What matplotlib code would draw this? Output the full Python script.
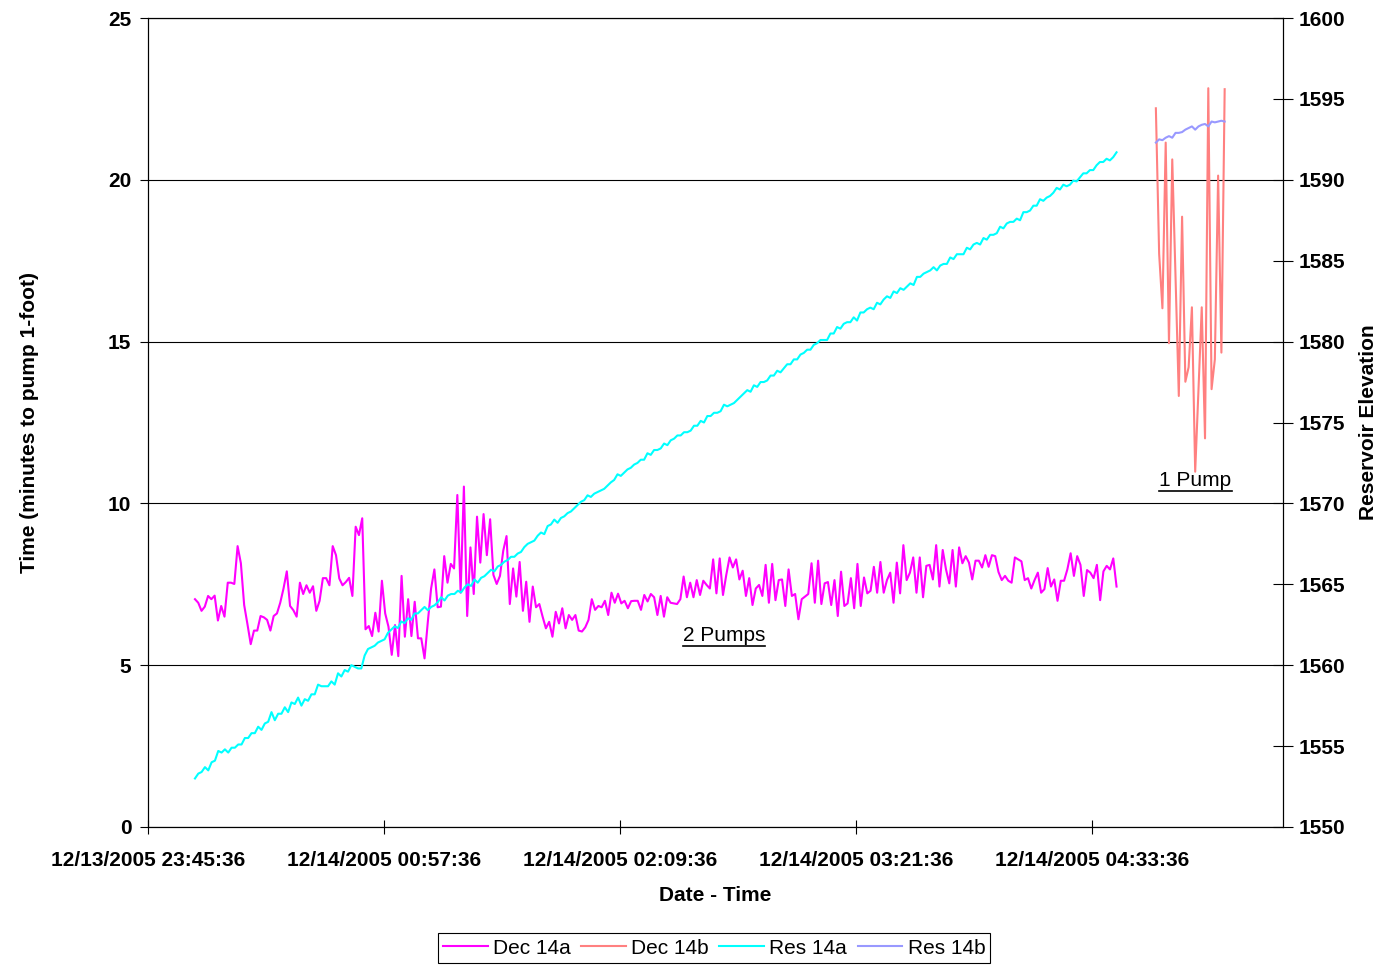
"""
Pump time per foot of reservoir rise, with reservoir elevation,
for the 12/14/2005 runs.
"""
import matplotlib
matplotlib.use("Agg")
import matplotlib.pyplot as plt
from matplotlib.lines import Line2D
import numpy as np
import pandas as pd

plt.rcParams["font.family"] = ["Liberation Sans", "DejaVu Sans"]

axis_start = "12/13/2005 23:45:36"
axis_end = "12/14/2005 05:32:00"
tick_labels = ["12/13/2005 23:45:36", "12/14/2005 00:57:36", "12/14/2005 02:09:36",
               "12/14/2005 03:21:36", "12/14/2005 04:33:36"]

# run a (two pumps), one reading per minute
run_a_start = "12/13/2005 23:59:56"
run_a_end = "12/14/2005 04:41:12"
dec14a = [
    7.04, 6.93, 6.68, 6.81, 7.14, 7.04, 7.15, 6.38, 6.83, 6.50, 7.55, 7.55, 7.51, 8.68, 8.15,
    6.86, 6.27, 5.65, 6.07, 6.07, 6.52, 6.48, 6.40, 6.07, 6.52, 6.60, 6.93, 7.37, 7.90, 6.83,
    6.70, 6.50, 7.55, 7.20, 7.47, 7.24, 7.44, 6.68, 6.99, 7.69, 7.69, 7.47, 8.68, 8.40, 7.68,
    7.47, 7.57, 7.70, 7.14, 9.28, 9.02, 9.54, 6.11, 6.21, 5.90, 6.62, 6.04,
    7.61, 6.60, 6.19, 5.32, 6.24, 5.28, 7.76, 5.88, 7.04, 5.90, 6.96, 5.83, 5.83, 5.21, 6.34,
    7.37, 7.96, 6.79, 6.81, 8.37, 7.55, 8.13, 7.99, 10.26, 7.24, 10.52, 6.52, 8.64, 7.20, 9.59,
    8.17, 9.67, 8.40, 9.51, 7.79, 7.51, 7.76, 8.54, 8.99, 6.89, 7.99, 7.12, 8.19, 6.68, 7.58,
    6.34, 7.43, 6.79, 6.89,
    6.50, 6.14, 6.34, 5.88, 6.65, 6.29, 6.76, 6.14, 6.55, 6.40, 6.55, 6.07, 6.04, 6.17, 6.40,
    7.04, 6.71, 6.83, 6.79, 6.99, 6.55, 7.24, 6.93, 7.21, 6.91, 6.99, 6.76, 6.98, 6.99, 6.99,
    6.71, 7.17, 6.97, 7.20, 7.10, 6.55, 7.14, 6.50, 7.10, 6.93, 6.91, 6.89, 7.04, 7.74, 7.10,
    7.55, 7.10, 7.63, 7.17,
    7.61, 7.48, 7.37, 8.27, 7.22, 8.30, 7.17, 7.79, 8.33, 8.02, 8.27, 7.65, 7.92, 7.14, 7.69,
    6.86, 7.37, 7.48, 7.14, 8.10, 6.93, 8.13, 7.01, 7.63, 7.65, 6.83, 7.96, 7.14, 7.20, 6.42,
    7.04, 7.12, 7.20, 8.15, 6.93, 8.23, 6.89, 7.53, 7.57, 6.86, 7.63, 6.52, 7.89, 6.83, 6.91,
    7.69, 6.76, 8.13, 6.83, 7.71, 7.22, 7.30, 8.04, 7.24, 8.19, 7.24, 7.63, 7.86, 6.93, 8.17,
    7.22,
    8.71, 7.63, 7.86, 8.33, 7.24, 8.33, 7.10, 8.07, 8.10, 7.65, 8.71, 7.43, 8.56, 7.96, 7.53,
    8.56, 7.43, 8.64, 8.15, 8.37, 8.17, 7.65, 8.23, 8.23, 8.02, 8.40, 8.04, 8.40, 8.37, 7.88,
    7.63, 7.76, 7.61, 7.55, 8.33, 8.27, 8.21, 7.63, 7.69, 7.37, 7.63, 7.86, 7.24, 7.35, 8.00,
    7.43, 7.65, 6.99, 7.61, 7.61, 7.96, 8.46, 7.76, 8.37, 8.10, 7.14, 7.94, 7.86, 7.69, 8.10,
    7.01, 7.90, 8.07, 7.96, 8.30, 7.43,
]
res14a = [
    1553.0, 1553.3, 1553.4, 1553.7, 1553.5, 1554.0, 1554.1, 1554.7, 1554.6, 1554.8, 1554.6,
    1554.9, 1554.9, 1555.1, 1555.1, 1555.5, 1555.5, 1555.8, 1555.8, 1556.2, 1556.0, 1556.4,
    1556.5, 1557.1, 1556.6, 1557.0, 1557.0, 1557.4, 1557.1, 1557.7, 1557.6, 1558.0, 1557.5,
    1557.9, 1557.8, 1558.2, 1558.2, 1558.8, 1558.7, 1558.7, 1558.7, 1559.0, 1558.8, 1559.5,
    1559.3, 1559.7, 1559.6, 1560.0, 1559.9, 1559.8, 1559.8, 1560.6, 1561.0, 1561.1, 1561.2,
    1561.4, 1561.5,
    1561.6, 1562.0, 1562.2, 1562.4, 1562.3, 1562.7, 1562.6, 1562.9, 1562.8, 1563.2, 1563.2,
    1563.4, 1563.6, 1563.4, 1563.6, 1563.7, 1563.9, 1564.2, 1564.0, 1564.3, 1564.4, 1564.4,
    1564.6, 1564.5, 1564.8, 1565.0, 1564.9, 1565.3, 1565.1, 1565.4, 1565.5, 1565.7, 1565.9,
    1565.8, 1566.1, 1566.2, 1566.4, 1566.5, 1566.7, 1566.7, 1566.9, 1567.0, 1567.3, 1567.5,
    1567.6, 1567.7, 1568.0, 1568.2, 1568.1, 1568.6, 1568.7, 1569.0, 1568.8, 1569.1, 1569.2,
    1569.4, 1569.5, 1569.7, 1569.9, 1570.1, 1570.2, 1570.5, 1570.4, 1570.6, 1570.7, 1570.8,
    1570.9,
    1571.1, 1571.3, 1571.45, 1571.8, 1571.7, 1571.9, 1572.1, 1572.2, 1572.4, 1572.5, 1572.7,
    1572.7, 1573.1, 1573.0, 1573.3, 1573.3, 1573.4, 1573.7, 1573.6, 1573.9, 1574.0, 1574.2,
    1574.2, 1574.4, 1574.4, 1574.5, 1574.8, 1574.8, 1575.1, 1575.0, 1575.4, 1575.4, 1575.6,
    1575.6, 1575.7, 1576.1, 1576.0, 1576.1, 1576.2, 1576.4, 1576.6, 1576.8, 1577.0, 1576.9,
    1577.3, 1577.2, 1577.5, 1577.5, 1577.6, 1577.9, 1577.9, 1578.2, 1578.1, 1578.35, 1578.6,
    1578.6, 1578.9, 1578.9, 1579.2, 1579.3, 1579.5, 1579.5, 1579.8, 1579.9, 1580.1, 1580.1,
    1580.1, 1580.5, 1580.5, 1580.9, 1580.8, 1581.1, 1581.2, 1581.2,
    1581.5, 1581.3, 1581.8, 1581.8, 1582.0, 1582.1, 1582.0, 1582.4, 1582.3, 1582.6, 1582.8,
    1582.7, 1583.1, 1583.0, 1583.3, 1583.2, 1583.4, 1583.6, 1583.5, 1584.0, 1584.0, 1584.2,
    1584.3, 1584.4, 1584.6, 1584.4, 1584.7, 1584.8, 1584.8, 1585.2, 1585.1, 1585.4, 1585.4,
    1585.4, 1585.8, 1585.7, 1586.0, 1586.1, 1586.0, 1586.4, 1586.3, 1586.6, 1586.6, 1586.7,
    1587.1, 1587.0, 1587.3, 1587.4, 1587.4, 1587.6, 1587.5, 1588.0, 1588.0, 1588.1, 1588.4,
    1588.4, 1588.8, 1588.7, 1588.9, 1589.0, 1589.2, 1589.5, 1589.4, 1589.7, 1589.6, 1589.7,
    1589.95, 1589.9, 1590.15, 1590.4, 1590.4, 1590.6, 1590.6, 1590.9, 1591.1, 1591.1, 1591.3,
    1591.2, 1591.4, 1591.7,
]

# run b (one pump)
run_b_start = "12/14/2005 04:53:12"
run_b_end = "12/14/2005 05:14:12"
dec14b = [22.21, 17.71, 16.03, 21.15, 14.95, 20.63, 17.0, 13.32, 18.86, 13.76, 14.21, 16.06,
          10.98, 13.5, 16.06, 12.01, 22.83, 13.53, 14.45, 20.13, 14.66, 22.80]
res14b = [1592.3, 1592.5, 1592.45, 1592.6, 1592.7, 1592.6, 1592.9, 1592.9, 1592.95, 1593.1,
          1593.2, 1593.3, 1593.1, 1593.3, 1593.4, 1593.45, 1593.3, 1593.6, 1593.55, 1593.6,
          1593.65, 1593.6]


def minutes(ts):
    return (pd.to_datetime(ts) - pd.Timestamp(axis_start)).total_seconds() / 60.0


def run_times(start, end, n):
    return np.linspace(minutes(start), minutes(end), n)


def underline(fig, txt):
    # matplotlib has no underlined text, so draw a rule under the label
    r = fig.canvas.get_renderer()
    bb = txt.get_window_extent(r).transformed(fig.transFigure.inverted())
    y = bb.y0 - 0.001
    fig.add_artist(Line2D([bb.x0, bb.x1], [y, y], color="black", lw=1.2,
                          transform=fig.transFigure))


t_a = run_times(run_a_start, run_a_end, len(dec14a))
t_ra = run_times(run_a_start, run_a_end, len(res14a))
t_b = run_times(run_b_start, run_b_end, len(dec14b))
t_rb = run_times(run_b_start, run_b_end, len(res14b))

fig = plt.figure(figsize=(13.84, 9.65), dpi=100)
ax = fig.add_axes([148 / 1384, 1 - 827 / 965, (1283 - 148) / 1384, (827 - 18) / 965])
ax2 = ax.twinx()

l1, = ax.plot(t_a, dec14a, color="#FF00FF", lw=1.5, label="Dec 14a")
l2, = ax.plot(t_b, dec14b, color="#FF8080", lw=1.5, label="Dec 14b")
l3, = ax2.plot(t_ra, res14a, color="#00FFFF", lw=1.5, label="Res 14a")
l4, = ax2.plot(t_rb, res14b, color="#9999FF", lw=1.5, label="Res 14b")

ax.set_xlim(0, minutes(axis_end))
ax.set_ylim(0, 25)
ax2.set_ylim(1550, 1600)
ax.set_yticks(np.arange(0, 26, 5))
ax2.set_yticks(np.arange(1550, 1601, 5))
ax.set_xticks([minutes(t) for t in tick_labels])
ax.set_xticklabels(tick_labels)

ax.grid(axis="y", color="black", lw=0.8)
ax.set_axisbelow(True)
for a in (ax, ax2):
    for s in a.spines.values():
        s.set_linewidth(0.8)

ax.tick_params(axis="x", direction="inout", length=10, width=0.8, pad=12)
ax.tick_params(axis="y", direction="out", length=6, width=0.8, pad=6)
ax2.tick_params(axis="y", direction="inout", length=14, width=0.8, pad=4)
for lab in ax.get_xticklabels() + ax.get_yticklabels() + ax2.get_yticklabels():
    lab.set_fontsize(15)
    lab.set_fontweight("bold")

ax.set_xlabel("Date - Time", fontsize=15, fontweight="bold", labelpad=12)
ax.set_ylabel("Time (minutes to pump 1-foot)", fontsize=15, fontweight="bold", labelpad=50)
ax2.set_ylabel("Reservoir Elevation", fontsize=15, fontweight="bold", rotation=90, labelpad=10)

t2 = ax.text(163.2, 5.75, "2 Pumps", fontsize=15, va="baseline")
t1 = ax.text(308.7, 10.55, "1 Pump", fontsize=15, va="baseline")

leg = fig.legend(handles=[l1, l2, l3, l4], loc="center", bbox_to_anchor=(0.516, 0.0176),
                 ncol=4, fontsize=15, frameon=True, fancybox=False, edgecolor="black",
                 framealpha=1, handlelength=2.15, handletextpad=0.25, columnspacing=0.5,
                 borderpad=0.25)
leg.get_frame().set_linewidth(0.8)

underline(fig, t2)
underline(fig, t1)

fig.savefig("out.png", dpi=100)
